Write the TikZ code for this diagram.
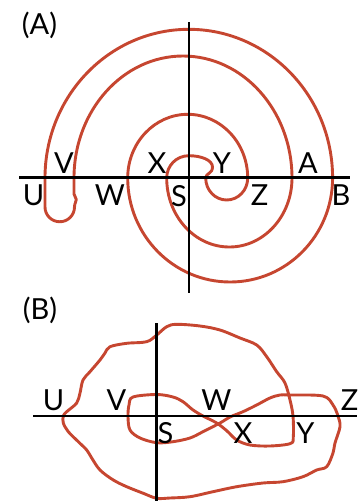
\documentclass[tikz,border=0pt]{standalone}
\usepackage{fontspec}
\setmainfont{Lato}
\definecolor{curvered}{RGB}{198,70,48}
\begin{document}
\begin{tikzpicture}[x=1pt,y=-1pt,
  redline/.style={draw=curvered,line width=2.9pt,line join=round},
  axisline/.style={draw=black,line width=2.7pt},
  lbl/.style={anchor=base,inner sep=0pt,font=\fontsize{29}{30}\selectfont}]
\useasboundingbox (0,0) rectangle (357,504);
% ---------- Panel A ----------
\draw[redline] (45,178)
  arc[start angle=180,end angle=360,x radius=143.8,y radius=148.7]
  arc[start angle=0,end angle=180,x radius=102.45,y radius=104]
  arc[start angle=180,end angle=360,x radius=60,y radius=63.7]
  arc[start angle=0,end angle=180,x radius=21,y radius=22]
  .. controls (205.7,173) and (212.5,174) .. (212.5,167)
  .. controls (212.5,160) and (201,155.7) .. (189,155.7)
  .. controls (176,155.7) and (166.7,166) .. (166.7,178)
  arc[start angle=180,end angle=0,x radius=62.65,y radius=69]
  arc[start angle=360,end angle=180,x radius=109,y radius=122]
  -- (74,194) .. controls (74,196.5) and (76.3,197) .. (76.3,199.5)
  .. controls (76.3,202) and (74.5,203) .. (74.5,207)
  arc[start angle=0,end angle=180,x radius=14.75,y radius=14.75]
  -- cycle;
\coordinate (ahl) at (19.3,177.7);
\coordinate (ahr) at (350,177.7);
\coordinate (avt) at (189,22);
\coordinate (avb) at (189,293);
\draw[axisline] (ahl) -- (ahr);
\draw[axisline] (avt) -- (avb);
\node[lbl] (labA) at (39.5,34) {(A)};
\node[lbl] (aV) at (64,173) {V};
\node[lbl] (aX) at (157,173) {X};
\node[lbl] (aY) at (222,173) {Y};
\node[lbl] (aA) at (308,173) {A};
\node[lbl] (aU) at (33.5,205) {U};
\node[lbl] (aW) at (110,205) {W};
\node[lbl] (aS) at (179,206) {S};
\node[lbl] (aZ) at (259.5,205) {Z};
\node[lbl] (aB) at (341,205) {B};
% ---------- Panel B ----------
\draw[redline] plot[smooth cycle,tension=0.55] coordinates {
 (63.3,416) (66.7,411.7) (76.7,403) (80,393) (83,380) (90,371.7) (100,360)
 (105,353) (110,346.7) (126.7,343.3) (146.7,341.7) (156.7,335) (166.7,326.7)
 (176.7,324.3) (200,326) (220,330) (240,338) (256.7,345) (266.7,356.7)
 (276.7,371.7) (285,383) (290,400) (293,416) (293.3,436.7) (290.5,443.5)
 (270,446) (250,445) (236.7,440) (226.7,430.7) (216.7,423) (203,416)
 (193,410) (183,401.7) (173,397) (156.7,394.5) (133,397) (129,405)
 (128,416.7) (130,430) (140,438) (156.7,442.7) (173,441.7) (190,438)
 (203,431.7) (220,423) (230,417) (243,411.7) (256.7,405) (270,398)
 (280,395) (290,395) (323,396) (333,405) (338,416) (340,426.7) (335,443)
 (333,453) (326.7,466.7) (316.7,470) (303,476.7) (283,481.7) (263,483)
 (236.7,486.7) (213,491.7) (190,496.7) (170,498) (156.7,498.3) (143.3,493.3)
 (126.7,486.7) (113.3,480) (100,470) (91.7,458) (86.7,450) (78.3,441.7)
 (68.3,431.7) (63.3,423)};
\coordinate (bhl) at (33.3,416);
\coordinate (bhr) at (357,416);
\coordinate (bvt) at (156.7,323);
\coordinate (bvb) at (156.7,501);
\draw[axisline] (bhl) -- (bhr);
\draw[axisline] (bvt) -- (bvb);
\node[lbl] (labB) at (40,319) {(B)};
\node[lbl] (bU) at (53.5,410) {U};
\node[lbl] (bV) at (116.5,410) {V};
\node[lbl] (bW) at (216.5,410) {W};
\node[lbl] (bZ) at (349.5,410) {Z};
\node[lbl] (bS) at (165.5,443) {S};
\node[lbl] (bX) at (243,443) {X};
\node[lbl] (bY) at (305.5,443) {Y};
\end{tikzpicture}
\end{document}
